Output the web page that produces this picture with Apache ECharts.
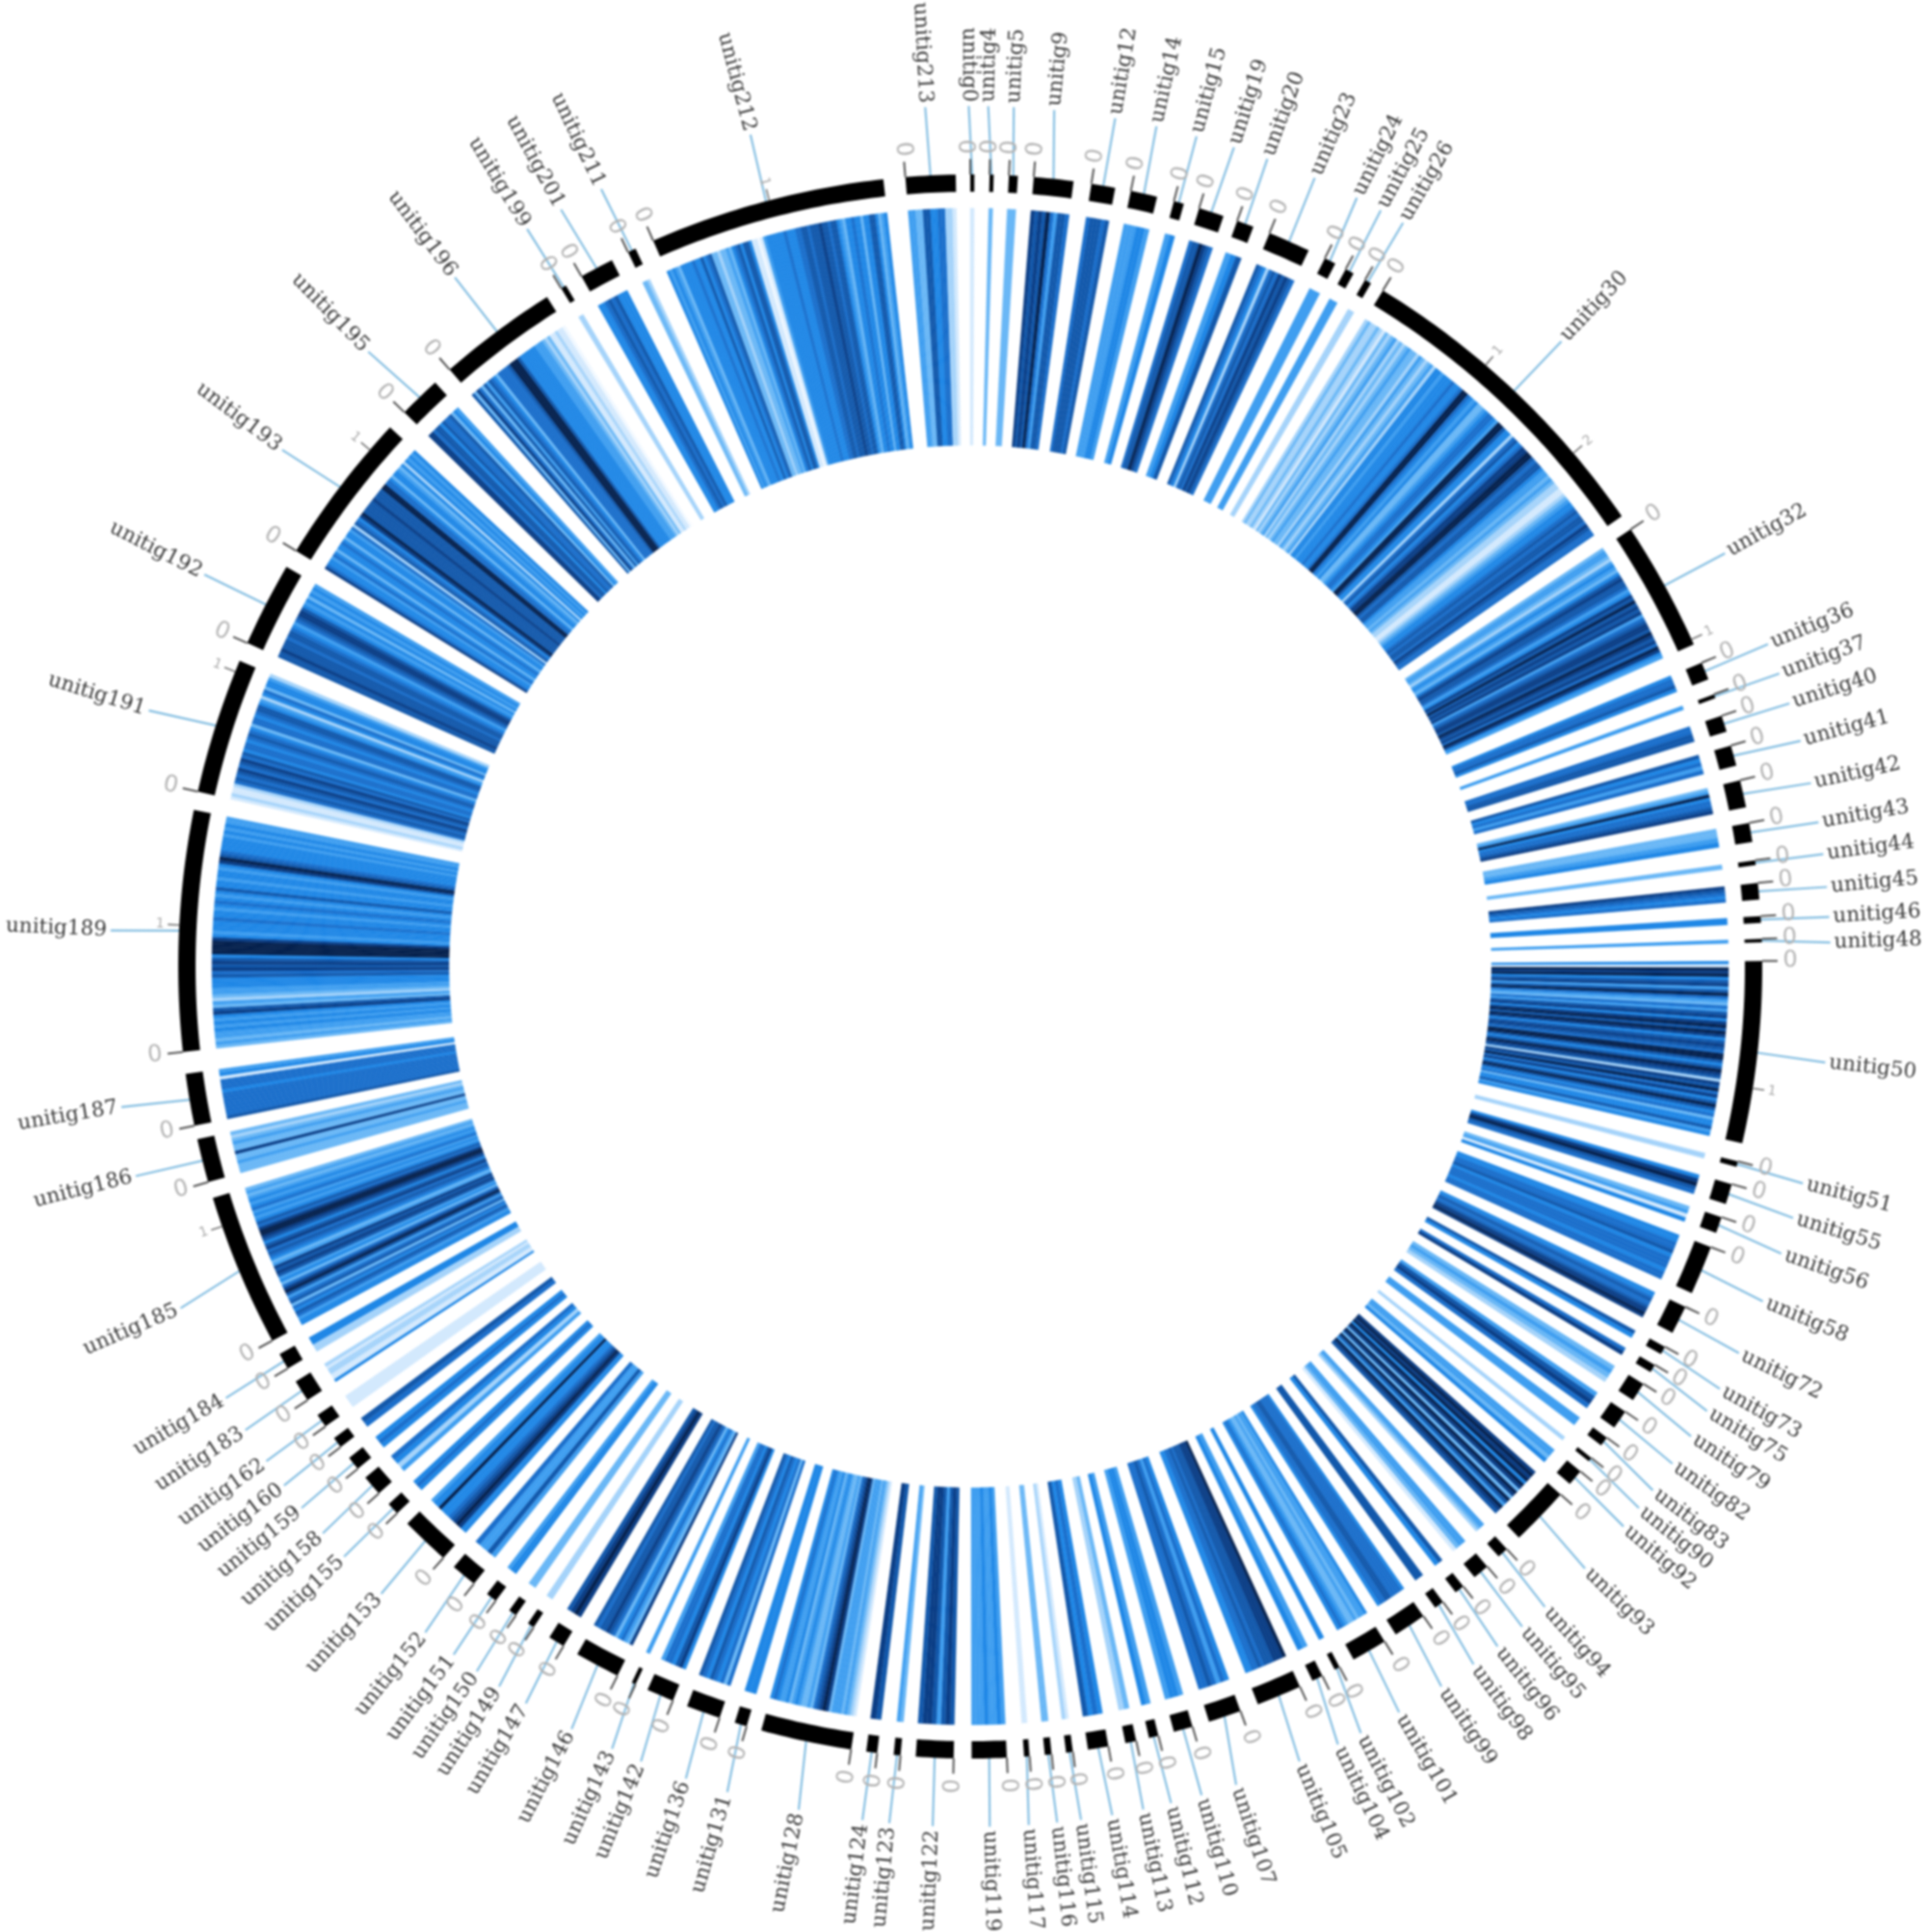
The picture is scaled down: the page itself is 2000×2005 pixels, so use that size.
<!DOCTYPE html>
<html><head><meta charset="utf-8">
<style>html,body{margin:0;padding:0;background:#fff}#c{width:2000px;height:2005px;filter:blur(0.8px)}</style>
<script src="https://cdn.jsdelivr.net/npm/echarts@6/dist/echarts.min.js"></script>
</head><body><div id="c"></div>
<script>
const contigNames=[0,4,5,9,12,14,15,19,20,23,24,25,26,30,32,36,37,40,41,42,43,44,45,46,48,50,51,55,56,58,72,73,75,79,82,83,90,92,93,94,95,96,98,99,101,102,104,105,107,110,112,113,114,115,116,117,119,122,123,124,128,131,136,142,143,146,147,149,150,151,152,153,155,158,159,160,162,183,184,185,186,187,189,191,192,193,195,196,199,201,211,212,213].map(n=>'unitig'+n);
const contigStart=[0,1.4,2.8,4.6,8.8,11.7,14.9,16.8,19.7,22.2,26.6,28.3,29.9,31.4,56.5,67.45,69.9,71.55,73.8,76.4,79.55,82.3,83.95,86.35,88,89.6,104.25,105.95,108.45,110.75,115.45,118.7,120.2,121.8,124.2,126.5,128.35,129.6,131.8,137.35,139.25,141.5,143.35,145.1,148.45,152.2,153.6,155.4,160.05,163.7,166.25,167.9,169.95,172.55,174.1,175.7,177.35,181.2,185.05,186.75,188.65,196.4,198.45,202.05,205,206.45,210.9,213.45,215,216.8,218.8,221.7,226.35,228.3,230.65,232.65,234.5,236.8,239.5,241.8,254.2,258.4,263.8,282.75,294.1,301.65,314.4,318.9,328.9,330.6,334.4,336.4,355.3];
const contigEnd=[0.3,1.7,3.45,7.5,10.55,13.65,15.65,18.65,20.95,25.3,27.45,28.95,30.4,55.35,66,68.75,70.2,72.75,75.3,78.4,80.95,82.65,85.15,86.85,88.25,102.9,104.65,107.45,109.65,114.35,117.55,119.3,120.8,123.2,125.6,127.2,128.65,130.8,136.15,138.15,140.45,142.2,144.05,147.5,151.05,152.6,154.4,158.7,162.45,165.1,166.95,168.7,171.45,173.05,174.6,176.1,179.9,183.95,185.55,187.55,195.3,197.3,200.95,204.05,205.3,209.75,212.1,213.95,215.6,217.6,220.7,225.3,227.25,229.8,231.65,233.45,235.5,238.4,240.7,253,257.4,262.2,281.4,292.7,300.3,312.9,317.5,327.7,329.3,333.1,335,353.7,358.95];
const labelAngle=[359.9,1.2,2.9,5.6,9.7,12.5,15.25,17.85,20.2,23.6,26.7,28.5,30.2,43.4,61.3,68,70.1,72.2,74.8,77.7,80.35,82.5,84.7,86.7,88.4,96.4,104.6,107,109.5,112.9,116.7,119.4,121.1,123.1,125.3,127.5,129,130.6,134.4,138.1,140.1,142.2,144.2,146.8,150.1,153,154.7,157.5,162,164.4,166.5,168.4,170.5,172.6,174.2,176.1,178.7,182.5,185.4,187.2,191.5,196.4,199.3,202.5,204.6,207.6,211.1,213.2,215,216.9,219.3,223.2,226.7,228.8,231,232.9,234.9,237.4,239.9,246.6,255.9,260.6,272.4,287.3,297.1,306.9,315.6,323.2,329,331.6,334.6,345.2,357];
// estimated heat level (0 palest .. 9 darkest) of each strip, clockwise inside each contig
const heatLevels=["1","3","3","8787964776","677767","444554","45","6779876","457","765267687876","4","4","2",
"2322321323423234332432342"+"5545556556"+"99654533456654"+"9975526756"+"8899767"+"754434322"+"11234556767768766",
"344324543578776458797878467887987869854",
"56675","4","6677","75646","34956678","3345","3","87656","5","4",
"5198957847964364785897985787699757987287968579756355745",
"2","58976","3415","556675666566","55676678898","75","68","3432","4786","4","2","4435",
"89895983983974987","4432","4431","75","7","5666677665","54434334565","5","45",
"9888777676655","5646766","4554","45","32","5657","12","33","1",
"45445444","78747887","34","78","1234344438987634334543544565",
"55","636567567","5875664","4","8346536787767","8987","2","3","554","47446",
"55898765559554","565","4256","565","67","1","5112212","25",
"55467563764798635478784356768757899867545465454343",
"3334338334323","766666665666154",
"34344545458734234455576878759999854555655456545755455458976555545454 4".replace(/ /g,''),
"1211267678678675665676536656775425635542",
"7787776776546788754535454",
"86554653556535546276589777778777799665355435254545",
"8867757667354",
"73863747653666679997555555444323112110",
"2","556767555","332",
"5454355556557567332334356757751101455555565556677677787767754355655355775345",
"4433775566221"];
const heatPalette=['#f1f8ff','#d3e9fd','#a5d3fa','#69b7f6','#3f9ef0','#1f87e6','#1a6ecb','#1258ab','#0a3d85','#04204d'];
const tickAngle=[40.6,49.6,65.6,98.85,250.85,273,291.85,310.7,345.3];
const tickLabel=['1','2','1','1','1','1','1','1','1'];

const R={ringIn:804,ringOut:822,heatIn:541,heatOut:787,label:897,zero:851,minor:842};
const heatData=[];
heatLevels.forEach((s,i)=>{
  const w=(contigEnd[i]-contigStart[i])/s.length;
  for(let k=0;k<s.length;k++)heatData.push([contigStart[i]+k*w,contigStart[i]+(k+1)*w,+s[k]]);
});
const ringData=contigNames.map((n,i)=>[contigStart[i],contigEnd[i]]);
function band(api,a0,a1,r0,r1){
  const n=Math.max(1,Math.ceil((a1-a0)/0.5)),pts=[];
  for(let j=0;j<=n;j++)pts.push(api.coord([r1,a0+(a1-a0)*j/n]));
  for(let j=n;j>=0;j--)pts.push(api.coord([r0,a0+(a1-a0)*j/n]));
  return pts;
}
function textRot(a){const t=((a%360)+360)%360;return t<180?{rotation:(90-t)*Math.PI/180,left:true}:{rotation:(270-t)*Math.PI/180,left:false};}
const option={
  animation:false,
  polar:{center:[1007,1003],radius:1000},
  angleAxis:{type:'value',min:0,max:360,startAngle:90,clockwise:true,show:false},
  radiusAxis:{type:'value',min:0,max:1000,show:false},
  series:[
   {type:'custom',coordinateSystem:'polar',clip:false,silent:true,data:heatData,
    renderItem(p,api){const l=api.value(2),c=heatPalette[l];
      return {type:'polygon',shape:{points:band(api,api.value(0),api.value(1),R.heatIn,R.heatOut)},style:{fill:c,stroke:c,lineWidth:0.4}};}},
   {type:'custom',coordinateSystem:'polar',clip:false,silent:true,data:ringData.map((d,i)=>[d[0],d[1],labelAngle[i]]),
    renderItem(p,api){const m=(api.value(0)+api.value(1))/2,a=api.coord([R.ringOut-2,m]),b=api.coord([R.label-4,api.value(2)]);
      return {type:'line',shape:{x1:a[0],y1:a[1],x2:b[0],y2:b[1]},style:{stroke:'#86bfe2',lineWidth:2.2}};}},
   {type:'custom',coordinateSystem:'polar',clip:false,silent:true,data:ringData,
    renderItem(p,api){
      const s=api.value(0),t=api.coord([R.ringOut,s]),u=api.coord([R.ringOut+16,s]),v=api.coord([R.zero,s]),rt=textRot(s);
      return {type:'group',children:[
        {type:'polygon',shape:{points:band(api,s,api.value(1),R.ringIn,R.ringOut)},style:{fill:'#000'}},
        {type:'line',shape:{x1:t[0],y1:t[1],x2:u[0],y2:u[1]},style:{stroke:'#555',lineWidth:2}},
        {type:'text',x:v[0],y:v[1],rotation:rt.rotation,style:{text:'0',fill:'#b4b4b4',font:'24px "DejaVu Sans"',align:'center',verticalAlign:'middle'}}
      ]};}},
   {type:'custom',coordinateSystem:'polar',clip:false,silent:true,data:tickAngle.map((a,i)=>[a,i]),
    renderItem(p,api){
      const s=api.value(0),t=api.coord([R.ringOut,s]),u=api.coord([R.ringOut+12,s]),v=api.coord([R.minor,s]),rt=textRot(s);
      return {type:'group',children:[
        {type:'line',shape:{x1:t[0],y1:t[1],x2:u[0],y2:u[1]},style:{stroke:'#777',lineWidth:1.6}},
        {type:'text',x:v[0],y:v[1],rotation:rt.rotation,style:{text:tickLabel[api.value(1)],fill:'#aaa',font:'14px "DejaVu Sans"',align:'center',verticalAlign:'middle'}}
      ]};}},
   {type:'custom',coordinateSystem:'polar',clip:false,silent:true,data:labelAngle.map((a,i)=>[a,i]),
    renderItem(p,api){
      const a=api.value(0),v=api.coord([R.label,a]),rt=textRot(a);
      return {type:'text',x:v[0],y:v[1],rotation:rt.rotation,style:{text:contigNames[api.value(1)],fill:'#3a3a3a',font:'21.5px "DejaVu Serif"',align:rt.left?'left':'right',verticalAlign:'middle'}};}}
  ]
};
echarts.init(document.getElementById('c'),null,{renderer:'canvas'}).setOption(option);
</script></body></html>
